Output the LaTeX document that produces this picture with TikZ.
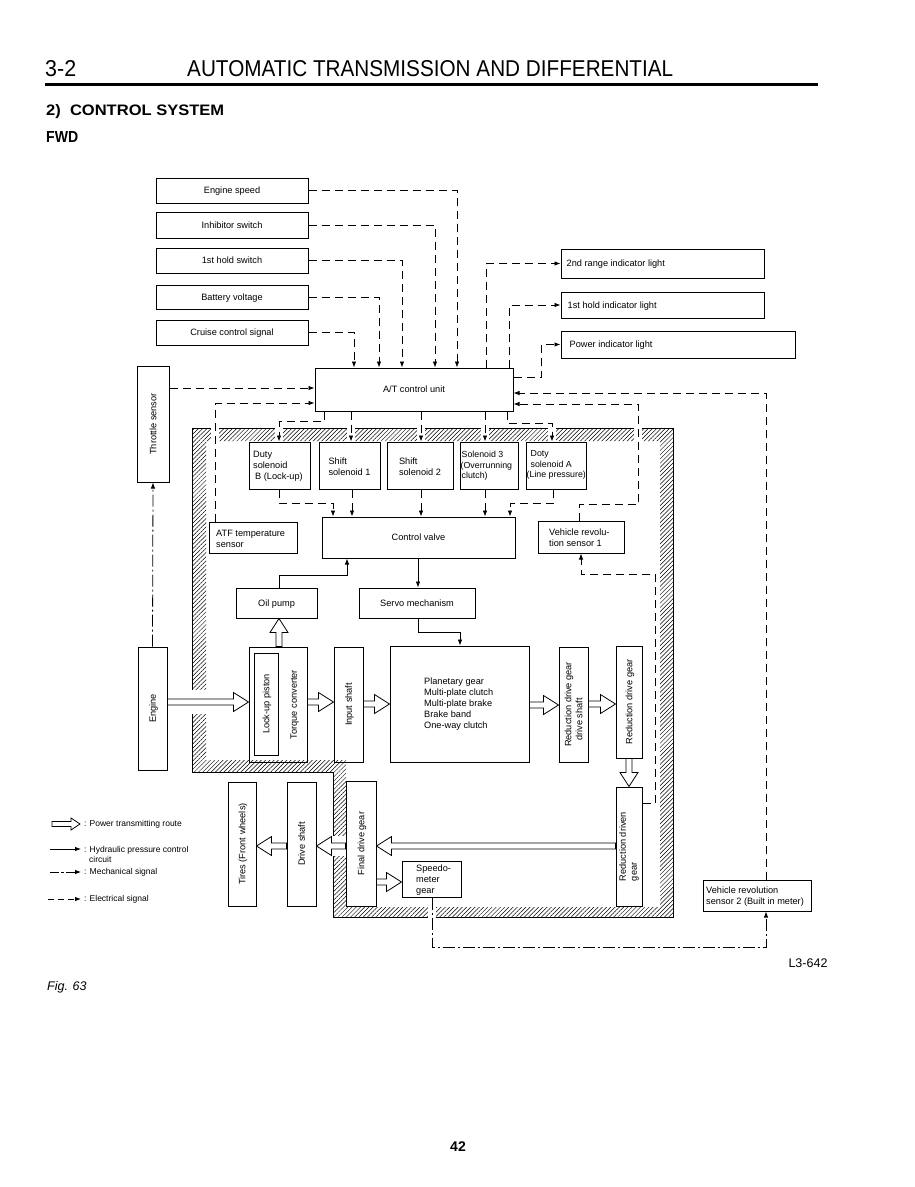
\documentclass[tikz,border=0pt]{standalone}
\usepackage{fontspec}
\setmainfont{Liberation Sans}
\setsansfont{Liberation Sans}
\usepackage{graphicx}
\usetikzlibrary{arrows.meta,calc,fit,patterns.meta}
\newcommand\bxf{\fontsize{9.2}{11}\selectfont}
\newcommand\bxs{\fontsize{8.8}{10.6}\selectfont}
\newcommand\lgf{\fontsize{8.5}{10}\selectfont}
\newcommand\pwrR[2]{\draw[pw] ($(#1)+(0,-3)$) -- ($(#2)+(-15,-3)$) -- ($(#2)+(-15,-9.5)$) -- (#2) -- ($(#2)+(-15,9.5)$) -- ($(#2)+(-15,3)$) -- ($(#1)+(0,3)$) -- cycle;}
\newcommand\pwrL[2]{\draw[pw] ($(#1)+(0,-3)$) -- ($(#2)+(15,-3)$) -- ($(#2)+(15,-9.5)$) -- (#2) -- ($(#2)+(15,9.5)$) -- ($(#2)+(15,3)$) -- ($(#1)+(0,3)$) -- cycle;}
\newcommand\pwrU[2]{\draw[pw] ($(#1)+(-3,0)$) -- ($(#2)+(-3,14)$) -- ($(#2)+(-9,14)$) -- (#2) -- ($(#2)+(9,14)$) -- ($(#2)+(3,14)$) -- ($(#1)+(3,0)$) -- cycle;}
\newcommand\pwrD[2]{\draw[pw] ($(#1)+(-3,0)$) -- ($(#2)+(-3,-14)$) -- ($(#2)+(-9,-14)$) -- (#2) -- ($(#2)+(9,-14)$) -- ($(#2)+(3,-14)$) -- ($(#1)+(3,0)$) -- cycle;}
\tikzset{
  box/.style={draw, line width=1pt, inner sep=0pt},
  tip/.style={-{Latex[length=6pt,width=4.5pt]}},
  el/.style={line width=0.8pt, dash pattern=on 8pt off 5pt, tip},
  hyd/.style={line width=0.8pt, tip},
  mech/.style={line width=0.8pt, dash pattern=on 12pt off 3pt on 2pt off 3pt, tip},
  pw/.style={draw, fill=white, line width=0.8pt, line join=miter},
  txt/.style={font=\bxf, inner sep=0pt},
  ctx/.style={font=\bxf, inner sep=0pt, text height=6.6pt, text depth=0pt},
  lg/.style={font=\lgf, inner sep=0pt},
}
\begin{document}
\begin{tikzpicture}[x=1pt,y=-1pt]
\useasboundingbox (0,0) rectangle (914,1187);
\fill[white] (0,0) rectangle (914,1187);

% header
\node[anchor=south west, inner sep=0pt] (pg) at (45,77) {\resizebox{31pt}{16pt}{3-2}};
\node[anchor=south west, inner sep=0pt] (ttl) at (187,77) {\resizebox{486pt}{16pt}{AUTOMATIC TRANSMISSION AND DIFFERENTIAL}};
\coordinate (r1) at (45,84.5); \coordinate (r2) at (818,84.5);
\draw[line width=3pt] (r1) -- (r2);
\node[anchor=south west, inner sep=0pt] (sec) at (46,119) {\resizebox{178pt}{11pt}{\bfseries 2)\ \ CONTROL SYSTEM}};
\node[anchor=south west, inner sep=0pt] (fwd) at (46,143) {\resizebox{32pt}{11pt}{\bfseries FWD}};

% hatched transmission case
\path[pattern={Lines[angle=45,distance=3pt,line width=0.5pt]}, even odd rule]
  (192,428) -- (673,428) -- (673,917) -- (333,917) -- (333,772) -- (192,772) -- cycle
  (206,441) -- (660,441) -- (660,907) -- (346,907) -- (346,760) -- (206,760) -- cycle;
\draw[line width=0.9pt] (192,428) -- (673,428) -- (673,917) -- (333,917) -- (333,772) -- (192,772) -- cycle;
\foreach \gx in {215,279,351,421,485,552,638}
  \fill[white] (\gx-4,425) rectangle (\gx+4,444);
\fill[white] (189,690) rectangle (209,714);
\fill[white] (330,836) rectangle (349,856);
\fill[white] (428,904) rectangle (436,920);

% boxes
\node[box, fit={(156,178) (308,203)}] (es) {};
\node[box, fit={(156,212) (308,238)}] (inh) {};
\node[box, fit={(156,248) (308,273)}] (hsw) {};
\node[box, fit={(156,285) (308,309)}] (bat) {};
\node[box, fit={(156,320) (308,345)}] (ccs) {};
\node[box, fit={(561,249) (764,278)}] (l2) {};
\node[box, fit={(561,292) (764,318)}] (l1) {};
\node[box, fit={(561,331) (795,358)}] (lp) {};
\node[box, fit={(315,368) (513,411)}] (cu) {};
\node[box, fit={(137,366) (169,482)}] (thr) {};
\node[box, fit={(249,442) (310,489)}] (db) {};
\node[box, fit={(319,442) (380,489)}] (s1) {};
\node[box, fit={(387,442) (453,489)}] (s2) {};
\node[box, fit={(460,442) (518,489)}] (s3) {};
\node[box, fit={(526,442) (586,489)}] (da) {};
\node[box, fit={(322,517) (515,558)}] (cv) {};
\node[box, fit={(209,522) (297,553)}] (atf) {};
\node[box, fit={(538,521) (624,553)}] (vr1) {};
\node[box, fit={(236,588) (317,618)}] (op) {};
\node[box, fit={(359,588) (475,618)}] (sv) {};
\node[box, fit={(138,647) (167,770)}] (eng) {};
\node[box, fit={(249,647) (307,762)}] (tc) {};
\node[box, fit={(254,653) (278,755)}] (lu) {};
\node[box, fit={(334,647) (363,762)}] (ins) {};
\node[box, fit={(390,646) (529,762)}] (pl) {};
\node[box, fit={(559,647) (588,762)}] (rds) {};
\node[box, fit={(616,646) (642,758)}] (rdg) {};
\node[box, fit={(616,787) (642,906)}] (rdn) {};
\node[box, fit={(346,781) (376,906)}] (fd) {};
\node[box, fit={(287,782) (316,906)}] (ds) {};
\node[box, fit={(228,782) (256,906)}] (ti) {};
\node[box, fit={(402,861) (461,897)}] (sp) {};
\node[box, fit={(703,880) (811,911)}] (vr2) {};

% box texts
\node[ctx] (est) at (es.center) {Engine speed};
\node[ctx] (inht) at (inh.center) {Inhibitor switch};
\node[ctx] (hswt) at (hsw.center) {1st hold switch};
\node[ctx] (batt) at (bat.center) {Battery voltage};
\node[ctx] (ccst) at (ccs.center) {Cruise control signal};
\node[ctx] (cut) at (cu.center) {A/T control unit};
\node[ctx] (cvt) at (cv.center) {Control valve};
\node[ctx] (opt) at (op.center) {Oil pump};
\node[ctx] (svt) at (sv.center) {Servo mechanism};
\node[ctx, anchor=west] (l2t) at ($(l2.west)+(6,0)$) {2nd range indicator light};
\node[ctx, anchor=west] (l1t) at ($(l1.west)+(7,0)$) {1st hold indicator light};
\node[ctx, anchor=west] (lpt) at ($(lp.west)+(9,0)$) {Power indicator light};
\node[txt, align=left, anchor=west] (dbt) at (253,466) {Duty\\solenoid\\\hspace*{2pt}B (Lock-up)};
\node[txt, align=left] (s1t) at ($(s1.center)+(0,1)$) {Shift\\solenoid 1};
\node[txt, align=left] (s2t) at ($(s2.center)+(0,1)$) {Shift\\solenoid 2};
\node[txt, align=left, anchor=west, font=\bxs] (s3t) at (460.5,466) {\hspace*{1pt}Solenoid 3\\(Overrunning\\\hspace*{1pt}clutch)};
\node[txt, align=left, anchor=west, font=\bxs] (dat) at (526.5,465) {\hspace*{4pt}Doty\\\hspace*{4pt}solenoid A\\(Line pressure)};
\node[txt, align=left, anchor=west] (atft) at (216,538.5) {ATF temperature\\sensor};
\node[txt, align=left, anchor=west] (vr1t) at (549,538) {Vehicle revolu-\\tion sensor 1};
\node[txt, align=left, anchor=west] (plt) at (424,704) {Planetary gear\\Multi-plate clutch\\Multi-plate brake\\Brake band\\One-way clutch};
\node[txt, align=left, anchor=west] (spt) at (416,880) {Speedo-\\meter\\gear};
\node[txt, align=left, anchor=west] (vr2t) at (706,896.5) {Vehicle revolution\\sensor 2 (Built in meter)};
\node[ctx, rotate=90] (thrt) at (thr.center) {Throttle sensor};
\node[ctx, rotate=90] (engt) at (eng.center) {Engine};
\node[ctx, rotate=90] (lut) at (lu.center) {Lock-up piston};
\node[ctx, rotate=90] (tct) at ($(tc.east)+(-14,0)$) {Torque converter};
\node[ctx, rotate=90] (inst) at (ins.center) {Input shaft};
\node[txt, rotate=90, align=center] (rdst) at (rds.center) {Reduction drive gear\\drive shaft\hspace*{30pt}};
\node[ctx, rotate=90] (rdgt) at (rdg.center) {Reduction drive gear};
\node[txt, rotate=90, align=left] (rdnt) at (rdn.center) {Reduction driven\\gear};
\node[ctx, rotate=90] (fdt) at (fd.center) {Final drive gear};
\node[ctx, rotate=90] (dst) at (ds.center) {Drive shaft};
\node[ctx, rotate=90] (tit) at (ti.center) {Tires (Front wheels)};

% electrical signals: inputs to control unit
\draw[el] (es.east) -| (cu.north -| 457,0);
\draw[el] (inh.east) -| (cu.north -| 435,0);
\draw[el] (hsw.east) -| (cu.north -| 402,0);
\draw[el] (bat.east) -| (cu.north -| 379,0);
\draw[el] (ccs.east) -| (cu.north -| 354,0);
\draw[el] (thr.east |- 0,388) -- (cu.west |- 0,388);
\draw[el] (atf.north -| 215,0) |- (cu.west |- 0,403);
\draw[el] (vr2.north -| 766,0) |- (cu.east |- 0,393);
\draw[el] (vr1.north -| 579,0) |- (638,504) |- (cu.east |- 0,404);
\draw[el] (rdn.east |- 0,803) -| (655,574) -| (vr1.south -| 581,0);
% outputs to indicator lights
\draw[el] (cu.north -| 486,0) |- (l2.west);
\draw[el] (cu.north -| 509,0) |- (l1.west);
\draw[el] (cu.east |- 0,377) -| ($(lp.west)+(-19,0)$) -- (lp.west);
% outputs to solenoids
\draw[el] (cu.south -| 324,0) |- (279,421) -- (db.north -| 279,0);
\draw[el] (cu.south -| 351,0) -- (s1.north -| 351,0);
\draw[el] (cu.south -| 421,0) -- (s2.north -| 421,0);
\draw[el] (cu.south -| 485,0) -- (s3.north -| 485,0);
\draw[el] (cu.south -| 507,0) |- (552,423) -- (da.north -| 552,0);
% solenoids to control valve
\draw[el] (db.south -| 279,0) |- (333,503) -- (cv.north -| 333,0);
\draw[el] (s1.south -| 352,0) -- (cv.north -| 352,0);
\draw[el] (s2.south -| 421,0) -- (cv.north -| 421,0);
\draw[el] (s3.south -| 485,0) -- (cv.north -| 485,0);
\draw[el] (da.south -| 553,0) |- (510,503) -- (cv.north -| 510,0);

% hydraulic
\draw[hyd] (op.north -| 279,0) |- (347,575) -- (cv.south -| 347,0);
\draw[hyd] (cv.south -| 418,0) -- (sv.north -| 418,0);
\draw[hyd] (sv.south -| 418,0) |- (460,632) -- (pl.north -| 460,0);

% mechanical
\draw[mech] (eng.north) -- (thr.south);
\draw[mech] (sp.south -| 432,0) |- (766,947) -- (vr2.south -| 766,0);

% power transmitting route
\coordinate (p1a) at (eng.east |- 0,702); \coordinate (p1b) at (tc.west |- 0,702);
\coordinate (p2a) at (tc.east |- 0,702); \coordinate (p2b) at (ins.west |- 0,702);
\coordinate (p3a) at (ins.east |- 0,704); \coordinate (p3b) at (pl.west |- 0,704);
\coordinate (p4a) at (pl.east |- 0,705); \coordinate (p4b) at (rds.west |- 0,705);
\coordinate (p5a) at (rds.east |- 0,704); \coordinate (p5b) at (rdg.west |- 0,704);
\coordinate (p6a) at (rdg.south); \coordinate (p6b) at (rdn.north);
\coordinate (p7a) at (tc.north -| 279,0); \coordinate (p7b) at (op.south -| 279,0);
\coordinate (p8a) at (rdn.west |- 0,846); \coordinate (p8b) at (fd.east |- 0,846);
\coordinate (p9a) at (fd.west |- 0,846); \coordinate (p9b) at (ds.east |- 0,846);
\coordinate (p10a) at (ds.west |- 0,846); \coordinate (p10b) at (ti.east |- 0,846);
\coordinate (p11a) at (fd.east |- 0,882); \coordinate (p11b) at (sp.west |- 0,882);
\pwrR{p1a}{p1b}
\pwrR{p2a}{p2b}
\pwrR{p3a}{p3b}
\pwrR{p4a}{p4b}
\pwrR{p5a}{p5b}
\pwrD{p6a}{p6b}
\pwrU{p7a}{p7b}
\pwrL{p8a}{p8b}
\pwrL{p9a}{p9b}
\pwrL{p10a}{p10b}
\pwrR{p11a}{p11b}

% legend
\coordinate (lgA) at (52,824); \coordinate (lgB) at (80,824);
\draw[pw] ($(lgA)+(0,-2.5)$) -- ($(lgB)+(-9,-2.5)$) -- ($(lgB)+(-9,-6)$) -- (lgB) -- ($(lgB)+(-9,6)$) -- ($(lgB)+(-9,2.5)$) -- ($(lgA)+(0,2.5)$) -- cycle;
\node[lg, anchor=west] (lt1) at (84,824) {: Power transmitting route};
\coordinate (lhA) at (50,849); \coordinate (lhB) at (81,849);
\draw[hyd] (lhA) -- (lhB);
\node[lg, anchor=west, align=left] (lt2) at (84,854) {: Hydraulic pressure control\\\hspace*{5pt}circuit};
\coordinate (lmA) at (50,872); \coordinate (lmB) at (81,872);
\draw[mech, dash pattern=on 9pt off 2pt on 3pt off 2pt] (lmA) -- (lmB);
\node[lg, anchor=west] (lt3) at (84,872) {: Mechanical signal};
\coordinate (leA) at (48,899); \coordinate (leB) at (81,899);
\draw[el, dash pattern=on 6pt off 4pt] (leA) -- (leB);
\node[lg, anchor=west] (lt4) at (84,899) {: Electrical signal};

% footer texts
\node[inner sep=0pt, font=\fontsize{12.5}{14}\selectfont] (ref) at (808,963) {L3-642};
\node[inner sep=0pt, anchor=west, font=\fontsize{12.5}{14}\selectfont\itshape] (fig) at (47,987) {Fig. 63};
\node[inner sep=0pt, font=\fontsize{14}{16}\selectfont\bfseries] (pno) at (458,1147) {42};
\end{tikzpicture}
\end{document}
